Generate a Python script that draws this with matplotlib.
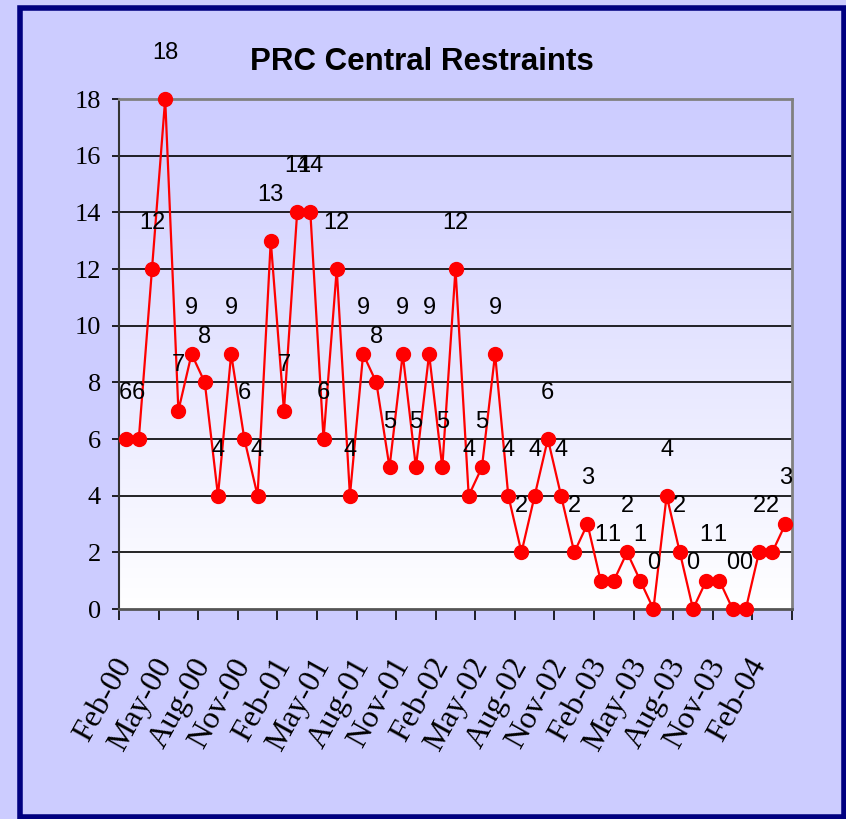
#! /usr/bin/env python3

# PRC central restraints per month, Feb-00 to Apr-04, Excel style line chart.

import matplotlib.pyplot as plt
import numpy as np
from matplotlib.colors import LinearSegmentedColormap
from matplotlib.patches import Rectangle

restraints = [6, 6, 12, 18, 7, 9, 8, 4, 9, 6, 4, 13, 7, 14, 14, 6, 12, 4,
              9, 8, 5, 9, 5, 9, 5, 12, 4, 5, 9, 4, 2, 4, 6, 4, 2, 3, 1, 1,
              2, 1, 0, 4, 2, 0, 1, 1, 0, 0, 2, 2, 3]
month_labels = ['Feb-00', 'May-00', 'Aug-00', 'Nov-00', 'Feb-01', 'May-01',
                'Aug-01', 'Nov-01', 'Feb-02', 'May-02', 'Aug-02', 'Nov-02',
                'Feb-03', 'May-03', 'Aug-03', 'Nov-03', 'Feb-04']
y_ticks = [0, 2, 4, 6, 8, 10, 12, 14, 16, 18]

lavender = '#CCCCFF'
serif = {'family': ['Liberation Serif', 'DejaVu Serif']}
sans = {'family': ['Liberation Sans', 'DejaVu Sans']}


def make_plot():
    fig = plt.figure(figsize=(8.46, 8.19), dpi=100, facecolor=lavender)

    # navy frame round the whole chart
    fig.patches.append(Rectangle((19.5/846, 2.5/819), (843.5-19.5)/846, (811.5-2.5)/819,
                                 transform=fig.transFigure, fill=False,
                                 edgecolor='#000080', linewidth=4))

    ax = fig.add_axes([119/846, 1-609/819, (792-119)/846, (609-99)/819])
    n = len(restraints)
    x = np.arange(n)
    ax.set_xlim(-0.5, n-0.5)
    ax.set_ylim(0, 18)

    # gradient plot area: lavender on top, white at the bottom
    cmap = LinearSegmentedColormap.from_list('bg', ['white', lavender])
    grad = np.linspace(0, 1, 256).reshape(-1, 1)
    ax.imshow(grad, cmap=cmap, aspect='auto', origin='lower',
              extent=[-0.5, n-0.5, 0, 18], zorder=0)

    for yt in y_ticks[1:-1]:
        ax.axhline(yt, color='black', lw=1.2, zorder=1)

    ax.plot(x, restraints, '-o', color='red', lw=1.6, markersize=10,
            markeredgecolor='red', zorder=3, clip_on=False)

    for i, v in enumerate(restraints):
        ax.annotate(str(v), xy=(i, v), xytext=(0, 33), textcoords='offset points',
                    ha='center', va='center', fontsize=17, color='black',
                    annotation_clip=False, **sans)

    ax.set_yticks(y_ticks)
    ax.set_yticklabels([str(t) for t in y_ticks], fontsize=19, **serif)
    ax.tick_params(axis='y', length=5, width=1.2, pad=8, direction='out')

    ax.set_xticks(np.arange(0, n, 3))
    ax.set_xticklabels(month_labels, fontsize=23, rotation=61, ha='right',
                       va='center', rotation_mode='anchor', **serif)
    ax.tick_params(axis='x', which='major', length=0, pad=37)
    ax.set_xticks(np.arange(-0.5, n, 3), minor=True)
    ax.tick_params(axis='x', which='minor', length=8, width=1.2, direction='out')

    for side in ['top', 'right']:
        ax.spines[side].set_color('#808080')
        ax.spines[side].set_linewidth(2)
    ax.spines['left'].set_color('#333333')
    ax.spines['left'].set_linewidth(1.5)
    ax.spines['bottom'].set_color('#555555')
    ax.spines['bottom'].set_linewidth(2)

    fig.text(422/846, 1-62/819, 'PRC Central Restraints', ha='center', va='center',
             fontsize=22.5, fontweight='bold', **sans)

    plt.savefig('out.png', dpi=100, facecolor=lavender)


def main():
    make_plot()


if __name__ == "__main__":
    main()
